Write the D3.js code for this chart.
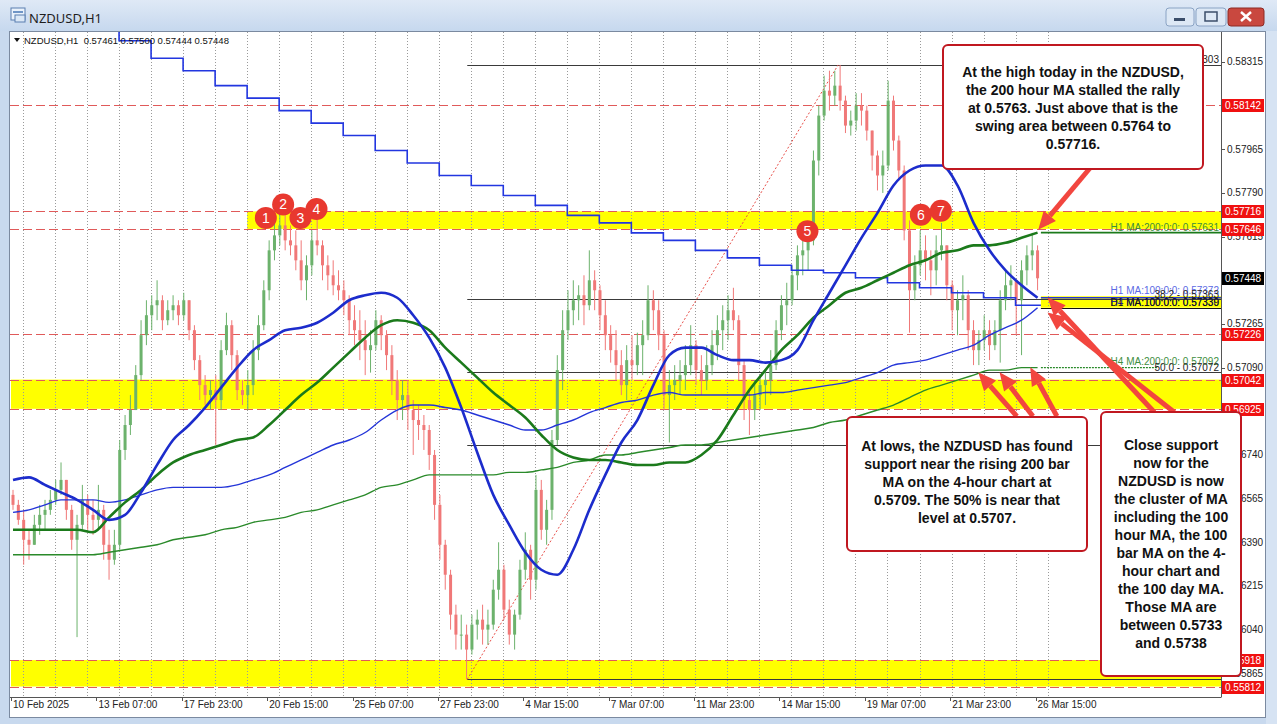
<!DOCTYPE html>
<html><head><meta charset="utf-8">
<script src="https://cdn.jsdelivr.net/npm/d3@7"></script>
<style>
html,body{margin:0;padding:0;background:#c8d9ee;overflow:hidden}
svg{display:block}
</style></head><body>
<svg id="c" width="1277" height="724"></svg>
<script>
// ---------------- DATA ----------------
const symbolTitle = "NZDUSD,H1";
const headerText = "NZDUSD,H1  0.57461 0.57500 0.57444 0.57448";
// 4-hour aggregated candles (index k = 4 hourly bars), starting 10 Feb 15:00
const firstOpen = 0.5658;
const highP = [0.5660,0.5656,0.5652,0.5644,0.5650,0.5654,0.5656,0.5660,0.5664,0.5671,
0.5664,0.5654,0.5650,0.5662,0.5658,0.5656,0.5662,0.5654,0.5644,0.5644,
0.5680,0.5690,0.5698,0.5710,0.5728,0.5736,0.5738,0.5744,0.5738,0.5736,
0.5738,0.5736,0.5739,0.5736,0.5726,0.5714,0.5706,0.5704,0.5706,0.5720,
0.5731,0.5728,0.5716,0.5704,0.5708,0.5720,0.5730,0.5744,0.5760,0.5768,
0.5772,0.5772,0.5766,0.5764,0.5760,0.5754,0.5764,0.5770,0.5760,0.5754,
0.5752,0.5748,0.5744,0.5738,0.5734,0.5732,0.5728,0.5724,0.5732,0.5730,
0.5724,0.5718,0.5708,0.5704,0.5704,0.5696,0.5694,0.5690,0.5686,0.5676,
0.5658,0.5640,0.5628,0.5614,0.5610,0.5606,0.5610,0.5612,0.5614,0.5612,
0.5624,0.5639,0.5630,0.5616,0.5612,0.5632,0.5643,0.5638,0.5666,0.5664,
0.5656,0.5684,0.5714,0.5732,0.5740,0.5744,0.5742,0.5746,0.5756,0.5748,
0.5742,0.5736,0.5726,0.5724,0.5716,0.5718,0.5722,0.5723,0.5728,0.5742,
0.5740,0.5736,0.5724,0.5708,0.5710,0.5712,0.5718,0.5726,0.5720,0.5714,
0.5718,0.5724,0.5730,0.5734,0.5738,0.5741,0.5730,0.5712,0.5700,0.5704,
0.5706,0.5708,0.5716,0.5728,0.5738,0.5743,0.5750,0.5758,0.5763,0.5764,
0.5796,0.5814,0.5826,0.5828,0.5828,0.58303,0.5818,0.5812,0.5819,0.5819,
0.5814,0.5804,0.5796,0.5796,0.5824,0.5818,0.5802,0.5790,0.5768,0.5754,
0.5764,0.5762,0.5756,0.5762,0.5767,0.5758,0.5744,0.5740,0.5746,0.5740,
0.5728,0.5724,0.5730,0.5728,0.5728,0.5740,0.5748,0.5750,0.5742,0.5752,
0.5758,0.5763,0.5758];
const lowP = [0.5652,0.5646,0.5630,0.5632,0.5638,0.5642,0.5644,0.5650,0.5654,0.5658,
0.5648,0.5636,0.5601,0.5644,0.5644,0.5642,0.5644,0.5632,0.5624,0.5630,
0.5636,0.5672,0.5682,0.5692,0.5704,0.5718,0.5724,0.5728,0.5724,0.5726,
0.5728,0.5726,0.5728,0.5720,0.5708,0.5696,0.5694,0.5692,0.5678,0.5692,
0.5714,0.5708,0.5696,0.5694,0.5692,0.5698,0.5712,0.5724,0.5736,0.5752,
0.5758,0.5756,0.5754,0.5748,0.5740,0.5736,0.5746,0.5754,0.5744,0.5740,
0.5738,0.5736,0.5730,0.5722,0.5718,0.5712,0.5706,0.5707,0.5716,0.5716,
0.5708,0.5698,0.5688,0.5688,0.5684,0.5674,0.5680,0.5676,0.5668,0.5648,
0.5632,0.5620,0.5604,0.5596,0.5596,0.55841,0.5594,0.5600,0.5598,0.5598,
0.5604,0.5616,0.5608,0.5598,0.5596,0.5608,0.5624,0.5616,0.5620,0.5640,
0.5638,0.5648,0.5678,0.5700,0.5720,0.5726,0.5728,0.5726,0.5732,0.5732,
0.5724,0.5716,0.5711,0.5704,0.5698,0.5696,0.5704,0.5706,0.5706,0.5720,
0.5724,0.5716,0.5692,0.5679,0.5696,0.5698,0.5700,0.5706,0.5702,0.5698,
0.5700,0.5706,0.5712,0.5716,0.5720,0.5724,0.5704,0.5688,0.5682,0.5688,
0.5692,0.5694,0.5698,0.5708,0.5720,0.5726,0.5734,0.5740,0.5746,0.5748,
0.5758,0.5786,0.5808,0.5812,0.5814,0.5812,0.5803,0.5802,0.5804,0.5806,
0.5800,0.5788,0.5780,0.5779,0.5788,0.5796,0.5784,0.5760,0.5723,0.5736,
0.5746,0.5744,0.5738,0.5742,0.5752,0.5736,0.5724,0.5722,0.5728,0.5716,
0.5710,0.5710,0.5716,0.5712,0.5716,0.5711,0.5732,0.5736,0.5722,0.5714,
0.5742,0.5748,0.5740];
const closeP = [0.5654,0.5648,0.5640,0.5638,0.5646,0.5650,0.5652,0.5656,0.5660,0.5664,
0.5652,0.5640,0.5646,0.5656,0.5650,0.5648,0.5652,0.5638,0.5632,0.5638,
0.5676,0.5686,0.5692,0.5706,0.5722,0.5730,0.5734,0.5736,0.5728,0.5732,
0.5734,0.5730,0.5736,0.5724,0.5712,0.5702,0.5698,0.5700,0.5696,0.5716,
0.5726,0.5714,0.5700,0.5698,0.5702,0.5716,0.5726,0.5740,0.5756,0.5762,
0.5766,0.5760,0.5758,0.5752,0.5744,0.5750,0.5760,0.5758,0.5750,0.5746,
0.5742,0.5740,0.5736,0.5728,0.5724,0.5720,0.5716,0.5718,0.5728,0.5722,
0.5714,0.5704,0.5696,0.5698,0.5692,0.5688,0.5686,0.5684,0.5674,0.5654,
0.5638,0.5626,0.5610,0.5602,0.5602,0.5596,0.5606,0.5608,0.5604,0.5606,
0.5620,0.5628,0.5612,0.5602,0.5610,0.5628,0.5636,0.5624,0.5660,0.5644,
0.5652,0.5680,0.5708,0.5724,0.5732,0.5736,0.5738,0.5734,0.5744,0.5740,
0.5730,0.5722,0.5716,0.5710,0.5702,0.5712,0.5710,0.5718,0.5722,0.5736,
0.5732,0.5722,0.5698,0.5702,0.5704,0.5706,0.5710,0.5718,0.5708,0.5704,
0.5710,0.5718,0.5724,0.5728,0.5732,0.5728,0.5710,0.5696,0.5692,0.5698,
0.5702,0.5704,0.5710,0.5724,0.5734,0.5736,0.5746,0.5754,0.5756,0.5760,
0.5792,0.5810,0.5820,0.5818,0.5822,0.5816,0.5806,0.5808,0.5814,0.5812,
0.5804,0.5794,0.5786,0.5790,0.5816,0.5800,0.5788,0.5764,0.5740,0.5750,
0.5756,0.5752,0.5748,0.5756,0.5758,0.5742,0.5732,0.5736,0.5738,0.5724,
0.5716,0.5720,0.5724,0.5718,0.5724,0.5736,0.5742,0.5744,0.5736,0.5748,
0.5754,0.5756,0.57448];

// Moving averages sampled every 3rd 4-hour bar (k = 0,3,...,192)
const maH1_100 = [0.5664,0.5665,0.5662,0.5659,0.5656,0.5652,0.5648,0.5650,0.5659,0.5670,
0.5680,0.5686,0.5693,0.5701,0.5709,0.5716,0.5720,0.5724,0.5725,0.5727,
0.5731,0.5736,0.5738,0.5739,0.5737,0.5730,0.5721,0.5709,0.5693,0.5675,
0.5658,0.5646,0.5635,0.5628,0.5626,0.5636,0.5652,0.5666,0.5679,0.5688,
0.5702,0.5714,0.5717,0.5717,0.5714,0.5712,0.5712,0.5711,0.5712,0.5716,
0.5728,0.5739,0.5750,0.5761,0.5771,0.5782,0.5788,0.5790,0.5790,0.5782,
0.5767,0.5756,0.5748,0.5742,0.5737];
const maH1_200 = [0.5644,0.5644,0.5644,0.5644,0.5644,0.5643,0.5649,0.5655,0.5660,0.5666,
0.5671,0.5674,0.5676,0.5678,0.5680,0.5681,0.5686,0.5692,0.5698,0.5703,
0.5709,0.5715,0.5721,0.5726,0.5728,0.5727,0.5724,0.5717,0.5711,0.5705,
0.5699,0.5694,0.5689,0.5682,0.5676,0.5673,0.5672,0.5672,0.5671,0.5670,
0.5670,0.5671,0.5671,0.5674,0.5680,0.5690,0.5700,0.5708,0.5716,0.5722,
0.5729,0.5734,0.5739,0.5741,0.5744,0.5747,0.5750,0.5752,0.5755,0.5756,
0.5758,0.5758,0.5759,0.5761,0.57631];
const maH4_100 = [0.5651,0.5652,0.5654,0.5656,0.5656,0.5656,0.5655,0.5656,0.5658,0.5660,
0.5661,0.5661,0.5661,0.5661,0.5662,0.5664,0.5666,0.5669,0.5672,0.5675,
0.5678,0.5680,0.5683,0.5688,0.5692,0.5694,0.5694,0.5693,0.5692,0.5690,
0.5688,0.5686,0.5684,0.5684,0.5686,0.5688,0.5691,0.5693,0.5695,0.5696,
0.5698,0.5699,0.5698,0.5698,0.5698,0.5698,0.5698,0.5699,0.5699,0.5700,
0.5701,0.5702,0.5703,0.5705,0.5707,0.5710,0.5711,0.5712,0.5714,0.5716,
0.5718,0.5722,0.5725,0.5728,0.5733];
const maH4_200 = [0.5634,0.5634,0.5634,0.5634,0.5634,0.5634,0.5635,0.5636,0.5637,0.5638,
0.5640,0.5641,0.5642,0.5644,0.5645,0.5647,0.5648,0.5649,0.5651,0.5652,
0.5654,0.5656,0.5658,0.5661,0.5662,0.5664,0.5666,0.5666,0.5666,0.5666,
0.5666,0.5667,0.5667,0.5668,0.5669,0.5671,0.5672,0.5674,0.5674,0.5675,
0.5676,0.5677,0.5678,0.5678,0.5679,0.5680,0.5681,0.5682,0.5683,0.5684,
0.5685,0.5687,0.5688,0.5690,0.5692,0.5694,0.5697,0.5700,0.5702,0.5704,
0.5706,0.5708,0.5708,0.5709,0.5709];
// Daily 100 MA, one value per trading day (10 Feb .. 26 Mar)
const maD1_100 = [0.5854,0.5851,0.5848,0.5845,0.5840,0.5833,0.5828,0.5822,0.5817,0.5812,
0.5807,0.5802,0.5796,0.5791,0.5786,0.5782,0.5778,0.5774,0.5770,0.5767,
0.5763,0.5760,0.5756,0.5753,0.5750,0.5748,0.5747,0.5745,0.5743,0.5741,
0.5739,0.5737,0.5734];

// Time axis
const timeTickIdx = [0,64,128,192,256,320,384,448,512,576,640,704,768];
const timeTickLabels = ["10 Feb 2025","13 Feb 07:00","17 Feb 23:00","20 Feb 15:00","25 Feb 07:00","27 Feb 23:00","4 Mar 15:00","7 Mar 07:00","11 Mar 23:00","14 Mar 15:00","19 Mar 07:00","21 Mar 23:00","26 Mar 15:00"];
// Price axis
const priceTicks = [0.55865,0.56040,0.56215,0.56390,0.56565,0.56740,0.56915,0.57090,0.57265,0.57440,0.57615,0.57790,0.57965,0.58140,0.58315];
const levelLines = [0.58142,0.57716,0.57646,0.57226,0.57042,0.56925,0.55918,0.55812];
const zones = [{from:0.57646,to:0.57716,startIdx:177},{from:0.56925,to:0.57042,startIdx:0},{from:0.55812,to:0.55918,startIdx:0}];
const lastPrice = 0.57448;
// Fibonacci retracement (low 27 Feb -> high 18 Mar)
const fibLowIdx = 342, fibHighIdx = 620, fibLow = 0.55841, fibHigh = 0.58303;
const fibPrices = [0.55841, 0.57363, 0.57072, 0.56781, 0.58303];
// MA cluster zone
const clusterZone = {from:0.57330, to:0.57376};
// Numbered touch points: [hour index, price, label]
const markers = [[191,0.57690,"1"],[204,0.57744,"2"],[217,0.57690,"3"],[229,0.57726,"4"],[597,0.57637,"5"],[682,0.57703,"6"],[697,0.57719,"7"]];
const lastIdx = 772;
const axisEndIdx = 907;

// Notes
const notes = [
 {x:943,y:45,w:260,h:124,lines:["At the high today in the NZDUSD,","the 200 hour MA stalled the rally","at 0.5763. Just above that is the","swing area between 0.5764 to","0.57716."],first:72},
 {x:847,y:417,w:240,h:134,lines:["At lows, the NZDUSD has found","support near the rising 200 bar","MA on the 4-hour chart at","0.5709. The 50% is near that","level at 0.5707."],first:446},
 {x:1101,y:412,w:140,h:264,lines:["Close support","now for the","NZDUSD is now","the cluster of MA","including the 100","hour MA, the 100","bar MA on the 4-","hour chart and","the 100 day MA.","Those MA are","between 0.5733","and 0.5738"],first:445}
];
// Arrows in chart coordinates: [tailIdx, tailPrice, tipIdx, tipPrice]
const arrows = [
 [809,0.57891,770,0.57643],
 [754,0.56895,725,0.57071],
 [766,0.56895,741,0.57071],
 [784,0.56895,764,0.57091],
 [857,0.56911,777,0.57371],
 [872,0.56911,777,0.57311]
];

// ---------------- DRAW ----------------
const svg = d3.select("#c");
const P = {l:10,t:32,r:1221,b:697};
const x = d3.scaleLinear().domain([0,axisEndIdx]).range([11,1221]);
const y = d3.scaleLinear().domain([0.55770,0.58435]).range([697,32]);
const font = "'Liberation Sans', Arial, sans-serif";

const defs = svg.append("defs");
const tg = defs.append("linearGradient").attr("id","tb").attr("x1",0).attr("y1",0).attr("x2",0).attr("y2",1);
tg.append("stop").attr("offset","0").attr("stop-color","#dfe9f6");
tg.append("stop").attr("offset","1").attr("stop-color","#c6d8ee");
defs.append("clipPath").attr("id","clip").append("rect").attr("x",P.l).attr("y",P.t).attr("width",P.r-P.l).attr("height",P.b-P.t);

// window frame
svg.append("rect").attr("width",1277).attr("height",724).attr("fill","#c8d9ee");
svg.append("rect").attr("width",1277).attr("height",31).attr("fill","url(#tb)");
const ic = svg.append("g").attr("transform","translate(11,8)");
ic.append("rect").attr("x",0).attr("y",0).attr("width",14).attr("height",12).attr("fill","#eaf2fb").attr("stroke","#5a7fb0");
ic.append("rect").attr("x",2).attr("y",3).attr("width",10).attr("height",2).attr("fill","#6f95c6");
ic.append("rect").attr("x",4).attr("y",7).attr("width",10).attr("height",7).attr("fill","#dbe8f6").attr("stroke","#5a7fb0");
svg.append("text").attr("x",29).attr("y",23).text(symbolTitle).attr("font-family","'Segoe UI','Noto Sans',sans-serif").attr("font-size",13).attr("fill","#1e1e1e");
function btn(x0,w,fill,stroke){
  svg.append("rect").attr("x",x0).attr("y",8).attr("width",w).attr("height",18).attr("rx",3).attr("fill",fill).attr("stroke",stroke);
}
btn(1166,28,"#dde8f5","#8aa3c4"); btn(1196,30,"#dde8f5","#8aa3c4"); btn(1228,36,"#c9483f","#8d2a24");
svg.append("rect").attr("x",1174).attr("y",18).attr("width",11).attr("height",3).attr("fill","#3b4e6a");
svg.append("rect").attr("x",1205).attr("y",12).attr("width",12).attr("height",9).attr("fill","none").attr("stroke","#3b4e6a").attr("stroke-width",1.5);
svg.append("path").attr("d","M1241,12 L1251,21 M1251,12 L1241,21").attr("stroke","#fff").attr("stroke-width",2.5);

// chart area (plot + axes)
svg.append("rect").attr("x",9.5).attr("y",31.5).attr("width",1256).attr("height",686).attr("fill","#fff").attr("stroke","#7b8aa0");
svg.append("rect").attr("x",1266).attr("y",31).attr("width",11).attr("height",693).attr("fill","#d6e3f3");

const plot = svg.append("g").attr("clip-path","url(#clip)");

// zones (yellow)
plot.selectAll(".zone").data(zones).join("rect")
  .attr("x",d=>Math.max(P.l,x(d.startIdx))).attr("width",d=>P.r-Math.max(P.l,x(d.startIdx)))
  .attr("y",d=>y(d.to)).attr("height",d=>y(d.from)-y(d.to)).attr("fill","#ffff00");
plot.append("rect").attr("x",x(lastIdx)).attr("width",P.r-x(lastIdx))
  .attr("y",y(clusterZone.to)).attr("height",y(clusterZone.from)-y(clusterZone.to)).attr("fill","#ffff00");

// vertical dotted grid at each day start
const dayStarts = d3.range(0,33).map(d=>9+24*d);
plot.selectAll(".grid").data(dayStarts).join("line")
  .attr("x1",d=>Math.round(x(d))+0.5).attr("x2",d=>Math.round(x(d))+0.5).attr("y1",P.t).attr("y2",P.b)
  .attr("stroke","#9a9a9a").attr("stroke-width",1).attr("stroke-dasharray","1,2");

// level lines (red dashed)
plot.selectAll(".lvl").data(levelLines).join("line")
  .attr("x1",P.l).attr("x2",P.r).attr("y1",d=>Math.round(y(d))+0.5).attr("y2",d=>Math.round(y(d))+0.5)
  .attr("stroke","#e05a5a").attr("stroke-width",1).attr("stroke-dasharray","9,4");

// fib lines
plot.selectAll(".fib").data(fibPrices).join("line")
  .attr("x1",x(fibLowIdx)).attr("x2",P.r).attr("y1",d=>Math.round(y(d))+0.5).attr("y2",d=>Math.round(y(d))+0.5)
  .attr("stroke","#3a3a3a").attr("stroke-width",1);
plot.append("line").attr("x1",x(fibLowIdx)).attr("y1",y(fibLow)).attr("x2",x(fibHighIdx)).attr("y2",y(fibHigh))
  .attr("stroke","#e8504a").attr("stroke-width",1).attr("stroke-dasharray","2,2");
plot.append("line").attr("x1",x(lastIdx)).attr("x2",P.r).attr("y1",Math.round(y(0.57330))+0.5).attr("y2",Math.round(y(0.57330))+0.5).attr("stroke","#111").attr("stroke-width",1.2);

// candles
const bars = closeP.map((c,k)=>{
  const o = k ? closeP[k-1] : firstOpen;
  return {k,o,c,h:Math.max(highP[k],o,c),l:Math.min(lowP[k],o,c)};
});
const bull="#6cb26c", bear="#f07878";
const cg = plot.append("g");
cg.selectAll(".wick").data(bars).join("line")
  .attr("x1",d=>x(4*d.k+1.5)).attr("x2",d=>x(4*d.k+1.5))
  .attr("y1",d=>y(d.h)).attr("y2",d=>y(d.l))
  .attr("stroke",d=>d.c>=d.o?bull:bear).attr("stroke-width",1);
cg.selectAll(".body").data(bars).join("rect")
  .attr("x",d=>x(4*d.k+1.5)-1.5).attr("width",3)
  .attr("y",d=>y(Math.max(d.o,d.c))).attr("height",d=>Math.max(1,y(Math.min(d.o,d.c))-y(Math.max(d.o,d.c))))
  .attr("fill",d=>d.c>=d.o?bull:bear);

// moving averages
const maIdx = d3.range(0,193,3).map(k=>4*k+1.5);
const ln = d3.line().x((d,i)=>x(maIdx[i])).y(d=>y(d)).curve(d3.curveMonotoneX);
plot.append("path").attr("d",ln(maH4_200)).attr("fill","none").attr("stroke","#2a8a2a").attr("stroke-width",1.4);
plot.append("path").attr("d",ln(maH4_100)).attr("fill","none").attr("stroke","#2435d8").attr("stroke-width",1.4);
const dayPts = maD1_100.map((v,d)=>[d===0?0:9+24*(d-1),v]);
dayPts.push([lastIdx,maD1_100[maD1_100.length-1]]);
plot.append("path").attr("d",d3.line().x(d=>x(d[0])).y(d=>y(d[1])).curve(d3.curveStepAfter)(dayPts))
  .attr("fill","none").attr("stroke","#2236e0").attr("stroke-width",1.6);
plot.append("path").attr("d",ln(maH1_200)).attr("fill","none").attr("stroke","#1b7a1b").attr("stroke-width",2.6);
plot.append("path").attr("d",ln(maH1_100)).attr("fill","none").attr("stroke","#1c2ccc").attr("stroke-width",2.6);

// MA value lines to the right
const endX = x(lastIdx);
function hline(p,col,w,dash,x2){plot.append("line").attr("x1",endX).attr("x2",x2||P.r).attr("y1",y(p)).attr("y2",y(p)).attr("stroke",col).attr("stroke-width",w).attr("stroke-dasharray",dash||null);}
hline(maH1_200[maH1_200.length-1],"#1b7a1b",1.6);
hline(maH1_100[maH1_100.length-1],"#2435d8",1.6);
hline(maH4_200[maH4_200.length-1],"#2a8a2a",1.2,"2,1",1158);

// right side labels inside plot
function rtext(txt,p,col,dy,op){plot.append("text").attr("x",1219).attr("y",y(p)+dy).attr("text-anchor","end").attr("font-family",font).attr("font-size",10).attr("fill",col).attr("opacity",op||1).text(txt);}
rtext("100.0 - 0.58303",0.58303,"#222",-2);
rtext("H1 MA:200:0:0: 0.57631",0.57631,"#3e8e3e",-2);
rtext("H1 MA:100:0:0: 0.57372",0.57372,"#4050e0",-3,0.85);
rtext("38.2 - 0.57363",0.57363,"#222",-1);
rtext("H4 MA:100:0:0: 0.57330",0.57330,"#2a2aa0",-1.5);
rtext("D1 MA:100:0:0: 0.57339",0.57330,"#111",-1.5);
rtext("H4 MA:200:0:0: 0.57092",0.57092,"#3e8e3e",-2);
rtext("50.0 - 0.57072",0.57072,"#222",-1);

// header
svg.append("path").attr("d","M14,38 L20,38 L17,42 Z").attr("fill","#111");
svg.append("text").attr("x",24).attr("y",44).attr("font-family",font).attr("font-size",9.5).attr("fill","#111").style("white-space","pre").text(headerText);

// axes lines
svg.append("line").attr("x1",P.r+0.5).attr("x2",P.r+0.5).attr("y1",P.t).attr("y2",P.b+0.5).attr("stroke","#555");
svg.append("line").attr("x1",P.l).attr("x2",P.r).attr("y1",P.b+0.5).attr("y2",P.b+0.5).attr("stroke","#555");
svg.selectAll(".pt").data(priceTicks).join("line").attr("x1",P.r).attr("x2",P.r+4).attr("y1",d=>Math.round(y(d))+0.5).attr("y2",d=>Math.round(y(d))+0.5).attr("stroke","#555");
svg.selectAll(".pl").data(priceTicks).join("text").attr("x",P.r+6).attr("y",d=>y(d)+3.5).attr("font-family",font).attr("font-size",10).attr("fill","#222").text(d=>d.toFixed(5));
svg.selectAll(".tt").data(timeTickIdx).join("line").attr("x1",d=>Math.round(x(d))+0.5).attr("x2",d=>Math.round(x(d))+0.5).attr("y1",P.b).attr("y2",P.b+4).attr("stroke","#555");
svg.selectAll(".tl").data(timeTickIdx).join("text").attr("x",d=>x(d)+2).attr("y",708).attr("font-family",font).attr("font-size",10).attr("fill","#222").text((d,i)=>timeTickLabels[i]);
function tag(p,fill){
  svg.append("rect").attr("x",P.r+1).attr("y",Math.round(y(p))-6).attr("width",42).attr("height",13).attr("fill",fill);
  svg.append("text").attr("x",P.r+4).attr("y",Math.round(y(p))+4).attr("font-family",font).attr("font-size",10).attr("fill","#fff").text(p.toFixed(5));
}
levelLines.forEach(p=>tag(p,"#f01010"));
tag(lastPrice,"#000");

// markers
const mg = svg.append("g");
markers.forEach(m=>{
  mg.append("circle").attr("cx",x(m[0])).attr("cy",y(m[1])).attr("r",11).attr("fill","#e8382f");
  mg.append("text").attr("x",x(m[0])).attr("y",y(m[1])+5).attr("text-anchor","middle").attr("font-family",font).attr("font-size",14).attr("fill","#fff").text(m[2]);
});

// arrows
const ag = svg.append("g");
arrows.forEach(a=>{
  const x1=x(a[0]),y1=y(a[1]),x2=x(a[2]),y2=y(a[3]);
  const ang=Math.atan2(y2-y1,x2-x1), L=18, Wd=8;
  const bx=x2-L*Math.cos(ang), by=y2-L*Math.sin(ang);
  ag.append("line").attr("x1",x1).attr("y1",y1).attr("x2",bx).attr("y2",by).attr("stroke","#f2463f").attr("stroke-width",5);
  const px=-Math.sin(ang)*Wd, py=Math.cos(ang)*Wd;
  ag.append("path").attr("d",`M${x2},${y2} L${bx+px},${by+py} L${bx-px},${by-py} Z`).attr("fill","#f2463f");
});

// notes
notes.forEach(n=>{
  svg.append("rect").attr("x",n.x).attr("y",n.y).attr("width",n.w).attr("height",n.h).attr("rx",5).attr("fill","#fff").attr("stroke","#c01820").attr("stroke-width",2);
  n.lines.forEach((t,i)=>{
    svg.append("text").attr("x",n.x+n.w/2).attr("y",n.first+5+i*18).attr("text-anchor","middle").attr("font-family",font).attr("font-weight","bold").attr("font-size",14).attr("fill","#111").text(t);
  });
});
</script>
</body></html>
